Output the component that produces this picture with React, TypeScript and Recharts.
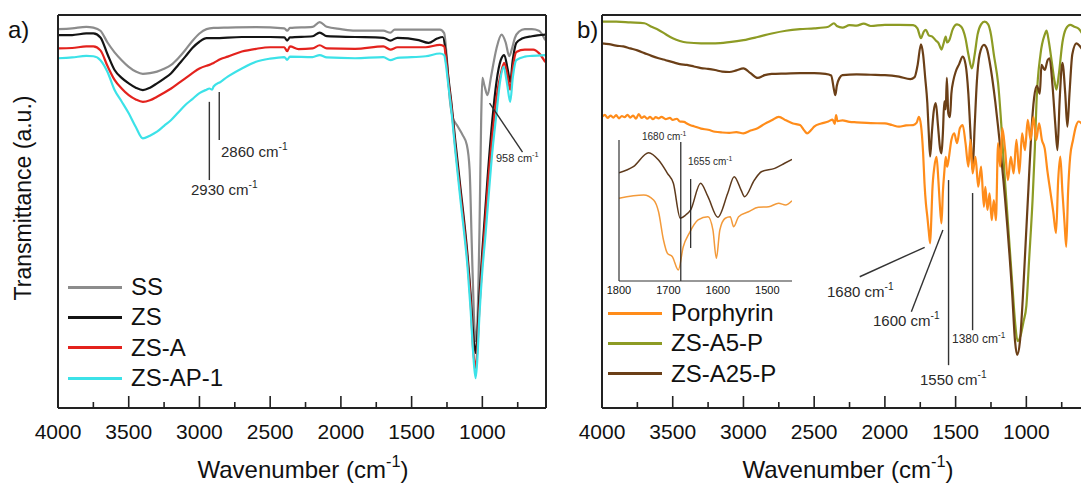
import { LineChart, Line, XAxis, YAxis, ReferenceLine } from "recharts";

const FONT = '"Liberation Sans", Arial, Helvetica, sans-serif';

const TICKS = [4000, 3750, 3500, 3250, 3000, 2750, 2500, 2250, 2000, 1750, 1500, 1250, 1000, 750];
const INSET_TICKS = [1800, 1700, 1600, 1500];

// ---- panel a: [wavenumber, transmittance a.u.] ----
const ssData = [
  [4000, 96.4], [3900, 96.6], [3800, 97.0], [3750, 96.8], [3700, 96.0], [3650, 93.0], [3600, 90.5],
  [3550, 88.5], [3500, 86.8], [3450, 85.6], [3400, 85.0], [3350, 85.2], [3300, 85.6], [3250, 86.3],
  [3200, 87.3], [3150, 89.0], [3100, 91.1], [3050, 93.4], [3000, 95.3], [2950, 96.4], [2900, 96.7],
  [2800, 96.8], [2600, 96.9], [2400, 96.6], [2380, 96.0], [2360, 96.7], [2200, 97.0], [2150, 98.2],
  [2100, 97.0], [2000, 96.4], [1900, 96.0], [1800, 96.0], [1700, 96.0], [1650, 95.5], [1620, 96.3],
  [1500, 96.3], [1400, 96.3], [1300, 96.3], [1270, 95.4], [1250, 88.5], [1230, 78.5], [1210, 74.0],
  [1180, 72.0], [1140, 69.5], [1110, 67.0], [1090, 60.6], [1075, 42.0], [1060, 24.0], [1048, 17.0],
  [1035, 22.0], [1020, 46.0], [1008, 74.0], [1000, 84.0], [985, 82.0], [963, 79.6], [940, 84.0],
  [900, 91.5], [864, 95.0], [835, 93.0], [810, 89.5], [790, 91.5], [770, 94.2], [740, 95.8],
  [700, 96.4], [650, 96.4], [600, 96.0], [555, 93.6],
];
const zsData = [
  [4000, 94.9], [3900, 94.9], [3800, 95.3], [3750, 95.3], [3700, 94.3], [3650, 90.0], [3600, 86.0],
  [3550, 84.0], [3500, 82.6], [3450, 81.5], [3400, 80.9], [3350, 81.5], [3300, 82.6], [3250, 83.8],
  [3200, 85.2], [3150, 87.3], [3100, 89.4], [3050, 91.6], [3000, 93.2], [2950, 94.1], [2900, 94.1],
  [2700, 94.4], [2500, 94.4], [2400, 94.3], [2380, 93.5], [2360, 94.3], [2200, 94.6], [2150, 95.5],
  [2100, 94.6], [1900, 94.4], [1700, 94.2], [1650, 93.5], [1600, 94.2], [1450, 93.6], [1380, 92.9],
  [1320, 94.0], [1280, 94.4], [1260, 91.0], [1240, 84.0], [1220, 78.0], [1190, 67.5], [1155, 56.0],
  [1130, 48.0], [1105, 39.0], [1083, 29.0], [1065, 19.0], [1048, 14.0], [1038, 17.0], [1020, 29.0],
  [1000, 40.0], [980, 50.0], [960, 60.0], [930, 73.0], [900, 83.0], [870, 88.5], [845, 89.8],
  [820, 86.0], [803, 83.0], [785, 88.5], [760, 92.9], [720, 94.0], [650, 94.6], [555, 95.0],
];
const zsaData = [
  [4000, 91.5], [3900, 91.6], [3800, 92.0], [3750, 92.0], [3700, 91.0], [3650, 87.0], [3600, 83.5],
  [3550, 81.3], [3500, 79.6], [3450, 78.5], [3400, 77.9], [3350, 78.3], [3300, 79.2], [3250, 80.2],
  [3200, 81.3], [3150, 82.6], [3100, 83.9], [3050, 85.2], [3000, 86.4], [2950, 87.1], [2930, 87.3],
  [2900, 87.8], [2850, 88.8], [2800, 89.4], [2700, 90.7], [2600, 91.4], [2500, 91.8], [2400, 91.8],
  [2380, 90.8], [2360, 92.0], [2300, 91.3], [2200, 91.5], [2150, 92.3], [2100, 91.5], [1900, 91.4],
  [1700, 92.0], [1650, 91.2], [1600, 91.8], [1400, 91.8], [1300, 92.4], [1270, 92.0], [1260, 90.0],
  [1240, 83.0], [1220, 77.0], [1190, 66.0], [1155, 54.5], [1130, 46.5], [1105, 37.5], [1083, 27.0],
  [1065, 15.0], [1048, 10.2], [1038, 13.5], [1020, 26.0], [1000, 37.5], [980, 47.0], [960, 57.0],
  [930, 69.0], [900, 79.0], [870, 85.0], [845, 87.8], [820, 84.0], [803, 81.0], [785, 86.5],
  [760, 90.6], [700, 91.2], [640, 91.2], [600, 90.3], [555, 88.0],
];
const zsap1Data = [
  [4000, 89.0], [3900, 89.2], [3800, 89.6], [3750, 89.5], [3700, 88.5], [3650, 85.5], [3600, 80.9],
  [3550, 78.0], [3500, 75.0], [3450, 71.5], [3400, 68.6], [3350, 69.3], [3300, 70.3], [3250, 71.8],
  [3200, 73.3], [3150, 75.2], [3100, 77.1], [3050, 78.6], [3000, 80.1], [2950, 81.0], [2930, 81.3],
  [2910, 81.0], [2900, 81.8], [2850, 83.0], [2800, 84.3], [2700, 86.4], [2600, 88.1], [2500, 88.9],
  [2400, 89.3], [2380, 88.6], [2360, 89.4], [2200, 89.3], [2150, 89.8], [2100, 89.2], [1900, 89.0],
  [1700, 89.3], [1650, 88.5], [1600, 89.1], [1400, 89.5], [1300, 90.2], [1270, 89.8], [1260, 88.0],
  [1240, 82.0], [1220, 76.0], [1190, 65.0], [1155, 53.0], [1130, 45.0], [1105, 36.0], [1083, 25.0],
  [1065, 14.0], [1048, 7.6], [1038, 11.0], [1020, 24.0], [1000, 35.0], [978, 44.0], [960, 52.0],
  [930, 65.0], [900, 75.0], [875, 83.0], [850, 86.8], [825, 82.5], [803, 77.9], [785, 84.0],
  [760, 88.5], [700, 89.4], [650, 89.6], [555, 89.8],
];

// ---- panel b ----
const a5pData = [
  [4000, 98.3], [3900, 98.3], [3800, 98.1], [3700, 97.9], [3650, 97.0], [3600, 96.2], [3550, 95.1],
  [3500, 94.1], [3450, 93.4], [3400, 93.0], [3300, 92.8], [3200, 92.8], [3100, 93.1], [3000, 93.6],
  [2900, 94.4], [2800, 95.3], [2700, 96.0], [2600, 96.4], [2500, 96.6], [2400, 97.0], [2360, 97.9],
  [2340, 97.2], [2300, 96.8], [2250, 97.4], [2200, 97.3], [2150, 97.8], [2100, 97.2], [2000, 97.5],
  [1900, 97.5], [1800, 97.4], [1770, 96.6], [1745, 94.1], [1725, 95.8], [1710, 96.2], [1690, 94.8],
  [1665, 94.5], [1640, 93.5], [1620, 92.8], [1600, 91.2], [1585, 92.8], [1570, 94.5], [1560, 93.0],
  [1545, 93.6], [1520, 96.4], [1490, 97.6], [1460, 97.0], [1430, 94.0], [1410, 90.0], [1385, 86.4],
  [1365, 90.0], [1345, 95.0], [1320, 97.6], [1295, 98.3], [1270, 97.6], [1250, 95.0], [1230, 90.0],
  [1200, 82.7], [1150, 57.2], [1100, 31.8], [1080, 22.0], [1062, 17.0], [1040, 18.5], [1020, 22.0],
  [1000, 26.0], [980, 38.0], [956, 53.0], [940, 66.0], [928, 78.0], [900, 90.0], [870, 95.0],
  [857, 96.0], [840, 93.0], [820, 88.0], [800, 83.0], [787, 81.0], [770, 85.0], [745, 93.0],
  [720, 96.5], [690, 97.5], [660, 97.0], [630, 96.5], [600, 95.0],
];
const a25pData = [
  [4000, 92.8], [3950, 92.6], [3900, 92.2], [3850, 92.0], [3800, 91.5], [3750, 91.0], [3700, 90.3],
  [3650, 89.6], [3600, 89.0], [3550, 88.5], [3500, 88.0], [3450, 87.5], [3400, 87.3], [3350, 86.9],
  [3300, 86.5], [3250, 86.3], [3200, 86.0], [3150, 85.6], [3100, 85.5], [3050, 85.9], [3000, 86.4],
  [2950, 85.2], [2900, 84.0], [2850, 84.7], [2800, 85.0], [2700, 85.1], [2600, 85.2], [2500, 85.2],
  [2420, 85.0], [2380, 84.6], [2360, 81.0], [2350, 79.6], [2340, 82.0], [2320, 84.0], [2300, 84.7],
  [2200, 84.9], [2100, 84.8], [2000, 84.7], [1900, 84.3], [1820, 83.7], [1790, 84.2], [1770, 87.0],
  [1745, 92.5], [1730, 90.0], [1715, 84.0], [1700, 77.6], [1690, 70.0], [1680, 64.0], [1668, 70.0],
  [1655, 75.5], [1640, 77.6], [1625, 72.0], [1610, 66.0], [1600, 64.8], [1590, 70.0], [1580, 78.0],
  [1570, 76.0], [1562, 84.0], [1552, 75.0], [1540, 74.0], [1530, 80.0], [1515, 83.5], [1500, 85.5],
  [1475, 87.5], [1450, 89.4], [1430, 87.5], [1410, 80.0], [1395, 70.0], [1380, 60.6], [1365, 72.0],
  [1350, 83.0], [1330, 90.0], [1300, 92.4], [1280, 91.5], [1250, 86.0], [1220, 78.0], [1200, 71.6],
  [1150, 53.0], [1100, 29.0], [1080, 17.0], [1065, 13.5], [1045, 17.0], [1025, 28.0], [1005, 42.0],
  [985, 56.0], [965, 70.0], [945, 79.0], [925, 82.0], [905, 80.0], [893, 87.3], [870, 86.0],
  [850, 88.5], [836, 89.0], [815, 82.0], [795, 72.0], [780, 65.6], [765, 78.0], [745, 87.8],
  [725, 80.0], [710, 71.6], [695, 80.0], [675, 90.0], [646, 92.8], [620, 92.0], [600, 91.0],
];
const porphyrinData = [
  [4000, 74.1], [3980, 74.6], [3960, 73.8], [3940, 74.4], [3920, 73.9], [3900, 74.5], [3880, 73.7],
  [3860, 74.3], [3840, 74.0], [3820, 74.6], [3800, 73.9], [3780, 74.4], [3760, 73.6], [3740, 74.8],
  [3720, 73.8], [3700, 74.2], [3680, 73.6], [3660, 74.1], [3640, 73.5], [3620, 74.0], [3600, 73.7],
  [3580, 74.1], [3550, 73.5], [3520, 73.8], [3500, 73.3], [3470, 73.6], [3450, 72.9], [3420, 72.8],
  [3400, 72.4], [3370, 71.9], [3350, 71.7], [3300, 71.1], [3250, 70.8], [3200, 70.3], [3150, 70.1],
  [3100, 70.0], [3050, 70.2], [3000, 69.9], [2950, 70.6], [2900, 71.2], [2850, 72.3], [2800, 73.2],
  [2750, 74.1], [2700, 73.2], [2650, 72.4], [2600, 72.0], [2570, 70.6], [2550, 69.9], [2520, 70.8],
  [2500, 71.6], [2450, 72.4], [2400, 72.9], [2370, 73.4], [2355, 72.3], [2345, 74.5], [2335, 73.0],
  [2300, 73.2], [2250, 72.8], [2200, 72.7], [2100, 72.5], [2000, 72.4], [1950, 72.0], [1900, 71.6],
  [1850, 71.9], [1800, 72.0], [1775, 72.6], [1760, 74.1], [1745, 72.0], [1730, 65.0], [1720, 57.2],
  [1710, 52.0], [1700, 48.7], [1690, 45.0], [1680, 41.9], [1672, 48.0], [1665, 55.0], [1650, 61.4],
  [1635, 63.9], [1622, 58.0], [1612, 52.0], [1600, 47.0], [1590, 55.0], [1580, 60.0], [1570, 63.9],
  [1560, 61.4], [1550, 63.1], [1530, 68.2], [1510, 69.9], [1490, 67.4], [1470, 71.2], [1450, 72.0],
  [1430, 67.4], [1410, 61.4], [1395, 68.2], [1380, 59.7], [1360, 63.9], [1340, 56.3], [1320, 61.4],
  [1300, 51.2], [1290, 56.3], [1275, 50.4], [1260, 54.6], [1245, 47.8], [1230, 52.9], [1215, 47.8],
  [1200, 67.4], [1185, 61.4], [1170, 71.2], [1150, 65.6], [1130, 58.0], [1110, 63.9], [1090, 59.7],
  [1070, 68.2], [1050, 59.7], [1030, 69.9], [1010, 65.6], [990, 73.3], [970, 68.2], [950, 74.1],
  [930, 68.2], [910, 72.4], [890, 68.2], [870, 66.0], [850, 60.0], [830, 55.0], [810, 50.0],
  [790, 44.5], [775, 58.0], [760, 64.0], [745, 55.0], [730, 47.0], [718, 41.0], [705, 55.0],
  [690, 64.0], [670, 68.2], [650, 71.6], [630, 72.9], [600, 72.0],
];

// ---- inset (1800-1450 cm-1) ----
const insetA25p = [
  [1800, 76.8], [1771, 81.1], [1740, 91.0], [1720, 85.8], [1702, 76.4], [1690, 69.3], [1676, 44.5],
  [1665, 46.8], [1655, 50.4], [1635, 69.3], [1620, 59.8], [1600, 45.2], [1580, 62.2], [1567, 74.0],
  [1553, 64.5], [1546, 59.8], [1526, 71.6], [1512, 77.5], [1485, 79.9], [1465, 83.5], [1450, 86.3],
];
const insetPorphyrin = [
  [1800, 58.7], [1750, 61.0], [1730, 57.4], [1720, 49.1], [1710, 29.1], [1702, 19.6], [1692, 17.2],
  [1680, 7.8], [1670, 24.3], [1658, 33.8], [1640, 43.3], [1620, 45.6], [1610, 36.2], [1603, 16.1],
  [1596, 36.2], [1585, 44.5], [1575, 45.6], [1568, 38.5], [1558, 45.6], [1538, 49.1], [1518, 52.3],
  [1497, 52.7], [1477, 55.1], [1463, 53.9], [1450, 56.9],
];

const seriesA = [
  { name: "SS", color: "#8c8c8c", data: ssData },
  { name: "ZS", color: "#141414", data: zsData },
  { name: "ZS-A", color: "#e3221d", data: zsaData },
  { name: "ZS-AP-1", color: "#3ce2e8", data: zsap1Data },
];
const seriesB = [
  { name: "ZS-A5-P", color: "#8d9b24", data: a5pData },
  { name: "ZS-A25-P", color: "#6b3f17", data: a25pData },
  { name: "Porphyrin", color: "#ff8c1a", data: porphyrinData },
];
const legendB = ["Porphyrin", "ZS-A5-P", "ZS-A25-P"];

const pts = (a: number[][]) => a.map(([w, t]) => ({ w, t }));

const makeTick = (every: number, size: number, dy: number, long: number, short: number) =>
  (props: any) => {
    const { x, y, payload } = props;
    const major = payload.value % every === 0;
    const len = major ? long : short;
    return (
      <g>
        {len > 0 && <line x1={x} x2={x} y1={y} y2={y - len} stroke="#222" strokeWidth={1.6} />}
        {major && (
          <text x={x} y={y + dy} textAnchor="middle" fontSize={size} fill="#111" fontFamily={FONT}>
            {payload.value}
          </text>
        )}
      </g>
    );
  };

const mainTick = makeTick(500, 21, 31, 12, 6);
const insetTick = makeTick(100, 11, 13, 0, 0);

function Sup({ text, size }: { text: string; size: number }) {
  return (
    <span>
      {text}
      <span style={{ fontSize: size * 0.68, position: "relative", top: -size * 0.45 }}>-1</span>
    </span>
  );
}

function Note({ left, cy, size, text }: { left: number; cy: number; size: number; text: string }) {
  return (
    <div
      style={{
        position: "absolute",
        left,
        top: cy,
        transform: "translateY(-50%)",
        fontSize: size,
        lineHeight: 1,
        color: "#2a2a2a",
        whiteSpace: "nowrap",
      }}
    >
      <Sup text={text} size={size} />
    </div>
  );
}

function LegendBox({ left, top, items }: { left: number; top: number; items: { name: string; color: string }[] }) {
  return (
    <div style={{ position: "absolute", left, top }}>
      {items.map((s) => (
        <div key={s.name} style={{ display: "flex", alignItems: "center", height: 30.3 }}>
          <div style={{ width: 54, height: 3, background: s.color, marginRight: 9 }} />
          <span style={{ fontSize: 24, lineHeight: 1, color: "#111" }}>{s.name}</span>
        </div>
      ))}
    </div>
  );
}

const axisStroke = { stroke: "#222", strokeWidth: 2 };

function frame() {
  return [
    <XAxis
      key="xb"
      type="number"
      dataKey="w"
      domain={[550, 4000]}
      reversed
      allowDataOverflow
      ticks={TICKS}
      interval={0}
      height={1}
      tickSize={0}
      tickMargin={0}
      tickLine={false}
      tick={mainTick}
      axisLine={axisStroke}
    />,
    <XAxis
      key="xt"
      xAxisId="top"
      orientation="top"
      type="number"
      dataKey="w"
      domain={[550, 4000]}
      reversed
      allowDataOverflow
      height={1}
      tick={false}
      tickLine={false}
      axisLine={axisStroke}
    />,
    <YAxis key="yl" type="number" domain={[0, 100]} width={1} tick={false} tickLine={false} axisLine={axisStroke} />,
    <YAxis
      key="yr"
      yAxisId="right"
      orientation="right"
      type="number"
      domain={[0, 100]}
      width={1}
      tick={false}
      tickLine={false}
      axisLine={axisStroke}
    />,
  ];
}

const annoStroke = { stroke: "#333", strokeWidth: 1.4 };

export default function App() {
  const margin = { top: 14, right: 13, bottom: 78, left: 57 };
  return (
    <div
      style={{
        position: "fixed",
        left: 0,
        top: 0,
        width: 1081,
        height: 487,
        overflow: "hidden",
        background: "#fff",
        fontFamily: FONT,
        color: "#111",
      }}
    >
      {/* panel a */}
      <div style={{ position: "absolute", left: 0, top: 0 }}>
        <LineChart width={560} height={487} margin={margin}>
          {frame()}
          {seriesA.map((s) => (
            <Line
              key={s.name}
              data={pts(s.data)}
              dataKey="t"
              name={s.name}
              type="monotone"
              stroke={s.color}
              strokeWidth={2.2}
              dot={false}
              isAnimationActive={false}
            />
          ))}
          <ReferenceLine segment={[{ x: 2930, y: 77.9 }, { x: 2930, y: 58 }]} {...annoStroke} />
          <ReferenceLine segment={[{ x: 2860, y: 80.4 }, { x: 2860, y: 68.2 }]} {...annoStroke} />
          <ReferenceLine segment={[{ x: 949, y: 77.6 }, { x: 716, y: 65.1 }]} {...annoStroke} />
        </LineChart>
      </div>

      {/* panel b */}
      <div style={{ position: "absolute", left: 544, top: 0 }}>
        <LineChart width={560} height={487} margin={margin}>
          {frame()}
          {seriesB.map((s) => (
            <Line
              key={s.name}
              data={pts(s.data)}
              dataKey="t"
              name={s.name}
              type="monotone"
              stroke={s.color}
              strokeWidth={2.2}
              dot={false}
              isAnimationActive={false}
            />
          ))}
          <ReferenceLine segment={[{ x: 1719, y: 40.9 }, { x: 2178, y: 33.4 }]} {...annoStroke} />
          <ReferenceLine segment={[{ x: 1590, y: 45.3 }, { x: 1813, y: 24.5 }]} {...annoStroke} />
          <ReferenceLine segment={[{ x: 1550, y: 58 }, { x: 1550, y: 10.9 }]} {...annoStroke} />
          <ReferenceLine segment={[{ x: 1380, y: 54.7 }, { x: 1380, y: 19.8 }]} {...annoStroke} />
        </LineChart>
      </div>

      {/* inset */}
      <div style={{ position: "absolute", left: 600, top: 130 }}>
        <LineChart width={200} height={180} margin={{ top: 10, right: 8, bottom: 28, left: 18 }}>
          <XAxis
            type="number"
            dataKey="w"
            domain={[1450, 1800]}
            reversed
            allowDataOverflow
            ticks={INSET_TICKS}
            interval={0}
            height={1}
            tickSize={0}
            tickMargin={0}
            tickLine={false}
            tick={insetTick}
            axisLine={{ stroke: "#333", strokeWidth: 1.2 }}
          />
          <YAxis
            type="number"
            domain={[0, 100]}
            width={1}
            tick={false}
            tickLine={false}
            axisLine={{ stroke: "#333", strokeWidth: 1.2 }}
          />
          <Line data={pts(insetA25p)} dataKey="t" type="monotone" stroke="#5e3a1c" strokeWidth={1.5} dot={false} isAnimationActive={false} />
          <Line data={pts(insetPorphyrin)} dataKey="t" type="monotone" stroke="#f39a3a" strokeWidth={1.5} dot={false} isAnimationActive={false} />
          <ReferenceLine segment={[{ x: 1675, y: 98.6 }, { x: 1675, y: 0 }]} stroke="#222" strokeWidth={1.2} />
          <ReferenceLine segment={[{ x: 1655, y: 72.3 }, { x: 1655, y: 23.4 }]} stroke="#222" strokeWidth={1.2} />
        </LineChart>
      </div>

      {/* panel labels and titles */}
      <div style={{ position: "absolute", left: 8, top: 18, fontSize: 24, lineHeight: 1 }}>a)</div>
      <div style={{ position: "absolute", left: 577, top: 18, fontSize: 24, lineHeight: 1 }}>b)</div>
      <div
        style={{
          position: "absolute",
          left: 23,
          top: 198,
          fontSize: 23,
          lineHeight: 1,
          whiteSpace: "nowrap",
          transform: "translate(-50%, -50%) rotate(-90deg)",
        }}
      >
        Transmittance (a.u.)
      </div>
      {[303, 848].map((cx) => (
        <div
          key={cx}
          style={{
            position: "absolute",
            left: cx,
            top: 470,
            fontSize: 24,
            lineHeight: 1,
            whiteSpace: "nowrap",
            transform: "translate(-50%, -50%)",
          }}
        >
          Wavenumber (<Sup text="cm" size={24} />)
        </div>
      ))}

      {/* legends */}
      <LegendBox left={68} top={272} items={seriesA} />
      <LegendBox left={608} top={298} items={legendB.map((n) => seriesB.find((s) => s.name === n)!)} />

      {/* annotations */}
      <Note left={191} cy={190} size={15} text="2930 cm" />
      <Note left={221} cy={152} size={15} text="2860 cm" />
      <Note left={496} cy={158} size={11} text="958 cm" />
      <Note left={827} cy={292} size={15} text="1680 cm" />
      <Note left={873} cy={321} size={15} text="1600 cm" />
      <Note left={920} cy={380} size={15} text="1550 cm" />
      <Note left={952} cy={339} size={12} text="1380 cm" />
      <Note left={642} cy={137} size={10} text="1680 cm" />
      <Note left={688} cy={162} size={10} text="1655 cm" />
    </div>
  );
}
